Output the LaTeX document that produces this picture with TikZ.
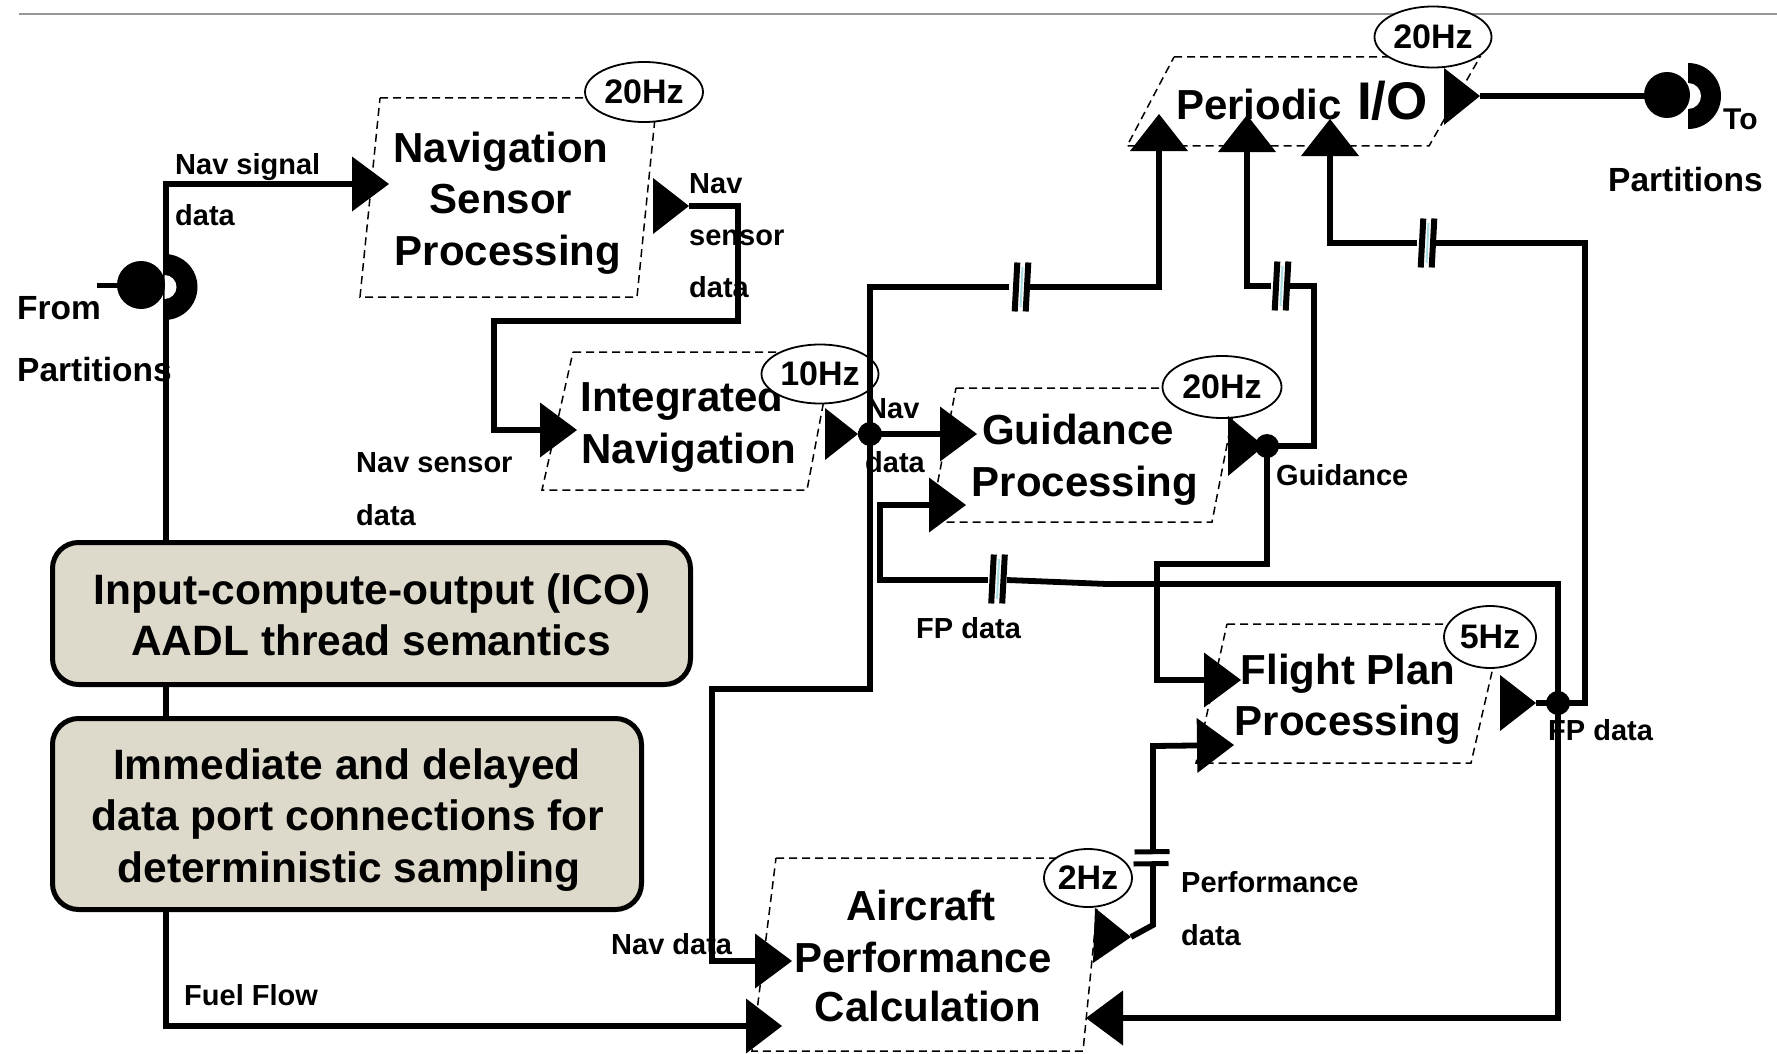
\documentclass[tikz,border=0pt]{standalone}
\usepackage{fontspec}
\setmainfont{Liberation Sans}
\usetikzlibrary{arrows.meta,shapes.geometric}
\definecolor{boxfill}{RGB}{222,218,203}
\definecolor{markblue}{RGB}{170,220,228}
\definecolor{rulegray}{RGB}{150,150,150}
\begin{document}
\begin{tikzpicture}[x=1pt,y=-1pt,
  conn/.style={line width=5.8pt,line join=miter},
  tip/.style={-{Triangle[length=37pt,width=55pt,line width=0pt]}},
  tipw/.style={-{Triangle[length=37pt,width=58pt,line width=0pt]}},
  both/.style={{Triangle[length=37pt,width=55pt,line width=0pt]}-{Triangle[length=36pt,width=55pt,line width=0pt]}},
  thread/.style={line width=1.5pt,dash pattern=on 8pt off 5pt},
  rate/.style={ellipse,draw,line width=1.8pt,fill=white,inner sep=0pt,font=\bfseries\fontsize{34}{34}\selectfont},
  title/.style={anchor=base,inner sep=0pt,font=\bfseries\fontsize{42}{42}\selectfont},
  infotext/.style={anchor=base,inner sep=0pt,font=\bfseries\fontsize{42.5}{42.5}\selectfont},
  lbl/.style={anchor=base west,inner sep=0pt,font=\bfseries\fontsize{29}{29}\selectfont},
  plbl/.style={anchor=base west,inner sep=0pt,font=\bfseries\fontsize{33.5}{33.5}\selectfont},
  info/.style={draw,line width=5pt,fill=boxfill,rounded corners=26pt,inner sep=0pt},
  dot/.style={circle,fill,inner sep=0pt,minimum size=24pt},
  delayv/.pic={
    \draw[markblue,line width=2pt] (1,-20) -- (-1,20);
    \draw[line width=6pt] (-4.2,-24.5) -- (-6.8,24.5);
    \draw[line width=6pt] (6.8,-24.5) -- (4.2,24.5);
  },
  delayh/.pic={
    \draw[line width=5pt] (-18,-6) -- (17,-6.5);
    \draw[line width=5pt] (-19,6) -- (16,5.5);
  }
]
\useasboundingbox (0,0) rectangle (1777,1054);
\fill[white] (0,0) rectangle (1777,1054);
\draw[rulegray,line width=2pt] (19,14) -- (1777,14);

% thread boxes
\draw[thread] (380,98) -- (657,98) -- (637,297) -- (360,297) -- cycle;
\draw[thread] (573,352) -- (833,352) -- (807,490) -- (542,490) -- cycle;
\draw[thread] (956,388) -- (1238,388) -- (1212,522) -- (930,522) -- cycle;
\draw[thread] (1227,624) -- (1503,624) -- (1471,763) -- (1196,763) -- cycle;
\draw[thread] (776,858) -- (1102,858) -- (1083,1051) -- (752,1051) -- cycle;
\draw[thread] (1174,57) -- (1480,57) -- (1429,146) -- (1127,146) -- cycle;

% thread names
\node[title] (nspA) at (501,162) {Navigation};
\node[title] (nspB) at (501,213) {Sensor};
\node[title] (nspC) at (508,265) {Processing};
\node[title] (inA) at (682,411) {Integrated};
\node[title] (inB) at (689,463) {Navigation};
\node[title] (gpA) at (1078,444) {Guidance};
\node[title] (gpB) at (1085,496) {Processing};
\node[title] (fppA) at (1348,684) {Flight Plan};
\node[title] (fppB) at (1348,735) {Processing};
\node[title] (acpA) at (921,920) {Aircraft};
\node[title] (acpB) at (923,972) {Performance};
\node[title] (acpC) at (928,1021) {Calculation};
\node[title,anchor=base west] (pioA) at (1176,120) {Periodic};
\node[anchor=base west,inner sep=0pt,font=\bfseries\fontsize{53}{53}\selectfont] (pioB) at (1357,120) {I/O};

% rates
\node[rate,minimum width=118pt,minimum height=60pt] (r1) at (644,92) {20Hz};
\node[rate,minimum width=117pt,minimum height=59pt] (r2) at (820,374) {10Hz};
\node[rate,minimum width=119pt,minimum height=62pt] (r3) at (1222,387) {20Hz};
\node[rate,minimum width=117pt,minimum height=61pt] (r4) at (1433,37) {20Hz};
\node[rate,minimum width=92pt,minimum height=62pt] (r5) at (1490,637) {5Hz};
\node[rate,minimum width=88pt,minimum height=58pt] (r6) at (1088,878) {2Hz};

% ports and junctions
\coordinate (nspIn) at (389,184);
\coordinate (fuelC) at (166,1026);
\coordinate (acpFuel) at (782,1026);
\coordinate (nspOut) at (689,206);
\coordinate (inIn) at (577,430);
\coordinate (inOut) at (858,434);
\coordinate (gpIn1) at (977,434);
\coordinate (gpIn2) at (966,505);
\coordinate (gpOut) at (1264,446);
\coordinate (fppIn1) at (1241,680);
\coordinate (fppIn2) at (1234,745);
\coordinate (fppOut) at (1536,703);
\coordinate (pioIn1) at (1159,114);
\coordinate (pioIn2) at (1247,115);
\coordinate (pioIn3) at (1330,119);
\coordinate (pioOut) at (1480,96);
\coordinate (acpIn1) at (792,961);
\coordinate (acpIn3) at (1086,1018);
\coordinate (acpOut) at (1131,937);
\coordinate (jNavC) at (870,434);
\coordinate (jGdC) at (1267,446);
\coordinate (jFPC) at (1558,703);
\coordinate (toPart) at (1646,96);

% connectors
\draw[conn,both] (nspIn) -| (fuelC) -- (acpFuel);
\draw[conn,tip] (nspOut) -- (738,206) -- (738,321) -- (494,321) -- (494,430) -- (inIn);
\draw[conn,tip] (inOut) -- (gpIn1);
\draw[conn] (jNavC) -- (870,287) -- (1009,287);
\draw[conn,tipw] (1030,287) -- (1159,287) -- (pioIn1);
\draw[conn,tip] (jNavC) -- (870,689) -- (712,689) -- (712,961) -- (acpIn1);
\draw[conn] (gpOut) -- (1314,446) -- (1314,286) -- (1289,286);
\draw[conn,tipw] (1271,286) -- (1247,286) -- (pioIn2);
\draw[conn,tip] (jGdC) -- (1267,564) -- (1157,564) -- (1157,680) -- (fppIn1);
\draw[conn] (fppOut) -- (1585,703) -- (1585,243) -- (1436,243);
\draw[conn,tipw] (1417,243) -- (1330,243) -- (pioIn3);
\draw[conn] (jFPC) -- (1558,584) -- (1107,584) -- (1007,580);
\draw[conn,tip] (988,580) -- (880,580) -- (880,505) -- (gpIn2);
\draw[conn,tip] (jFPC) -- (1558,1018) -- (acpIn3);
\draw[conn] (acpOut) -- (1153,925) -- (1153,866);
\draw[conn,tip] (1153,850) -- (1153,746) -- (fppIn2);
\draw[conn] (pioOut) -- (toPart);
\draw[line width=5pt] (97,285) -- (120,285);

% delayed connection marks
\pic at (1021.5,287) {delayv};
\pic at (1281.5,286) {delayv};
\pic at (1427.5,243) {delayv};
\pic at (998,579) {delayv};
\pic at (1152.5,858) {delayh};

% out ports
\fill (653,178) -- (nspOut) -- (653,234) -- cycle;
\fill (825,408) -- (inOut) -- (825,460) -- cycle;
\fill (1228,416) -- (gpOut) -- (1228,476) -- cycle;
\fill (1500,675) -- (fppOut) -- (1500,731) -- cycle;
\fill (1444,68) -- (pioOut) -- (1444,125) -- cycle;
\fill (1095,908) -- (acpOut) -- (1093,963) -- cycle;

% junction dots
\node[dot] (jNav) at (jNavC) {};
\node[dot] (jGd) at (jGdC) {};
\node[dot] (jFP) at (jFPC) {};

% partition connectors
\fill (164.5,254) arc[start angle=-90,end angle=90,radius=33] -- cycle;
\fill[white] (164.5,275) arc[start angle=-90,end angle=90,radius=12] -- cycle;
\fill (141,285) circle[radius=24];
\fill (1688,63) arc[start angle=-90,end angle=90,radius=33] -- cycle;
\fill[white] (1688,83) arc[start angle=-90,end angle=90,radius=13] -- cycle;
\fill (1667,95) circle[radius=23];

% note boxes
\node[info,minimum width=638pt,minimum height=142pt] (ico) at (371.5,613.5) {};
\node[info,minimum width=589pt,minimum height=191pt] (imm) at (347,814) {};
\node[infotext] (icoA) at (372,604) {Input-compute-output (ICO)};
\node[infotext] (icoB) at (371,655) {AADL thread semantics};
\node[infotext] (immA) at (347,779) {Immediate and delayed};
\node[infotext] (immB) at (348,830) {data port connections for};
\node[infotext] (immC) at (349,882) {deterministic sampling};

% labels
\node[lbl] (l1) at (175,174) {Nav signal};
\node[lbl] (l2) at (175,225) {data};
\node[lbl] (l3) at (689,193) {Nav};
\node[lbl] (l4) at (689,245) {sensor};
\node[lbl] (l5) at (689,297) {data};
\node[lbl] (l6) at (356,472) {Nav sensor};
\node[lbl] (l7) at (356,525) {data};
\node[lbl] (l8) at (866,418) {Nav};
\node[lbl] (l9) at (865,472) {data};
\node[lbl] (l10) at (1276,485) {Guidance};
\node[lbl] (l11) at (916,638) {FP data};
\node[lbl] (l12) at (1548,740) {FP data};
\node[lbl] (l13) at (1181,892) {Performance};
\node[lbl] (l14) at (1181,945) {data};
\node[lbl] (l15) at (611,954) {Nav data};
\node[lbl] (l16) at (184,1005) {Fuel Flow};
\node[plbl] (from1) at (17,319) {From};
\node[plbl] (from2) at (17,381) {Partitions};
\node[lbl,font=\bfseries\fontsize{30}{30}\selectfont] (to1) at (1723,129) {To};
\node[plbl] (to2) at (1608,191) {Partitions};
\end{tikzpicture}
\end{document}
